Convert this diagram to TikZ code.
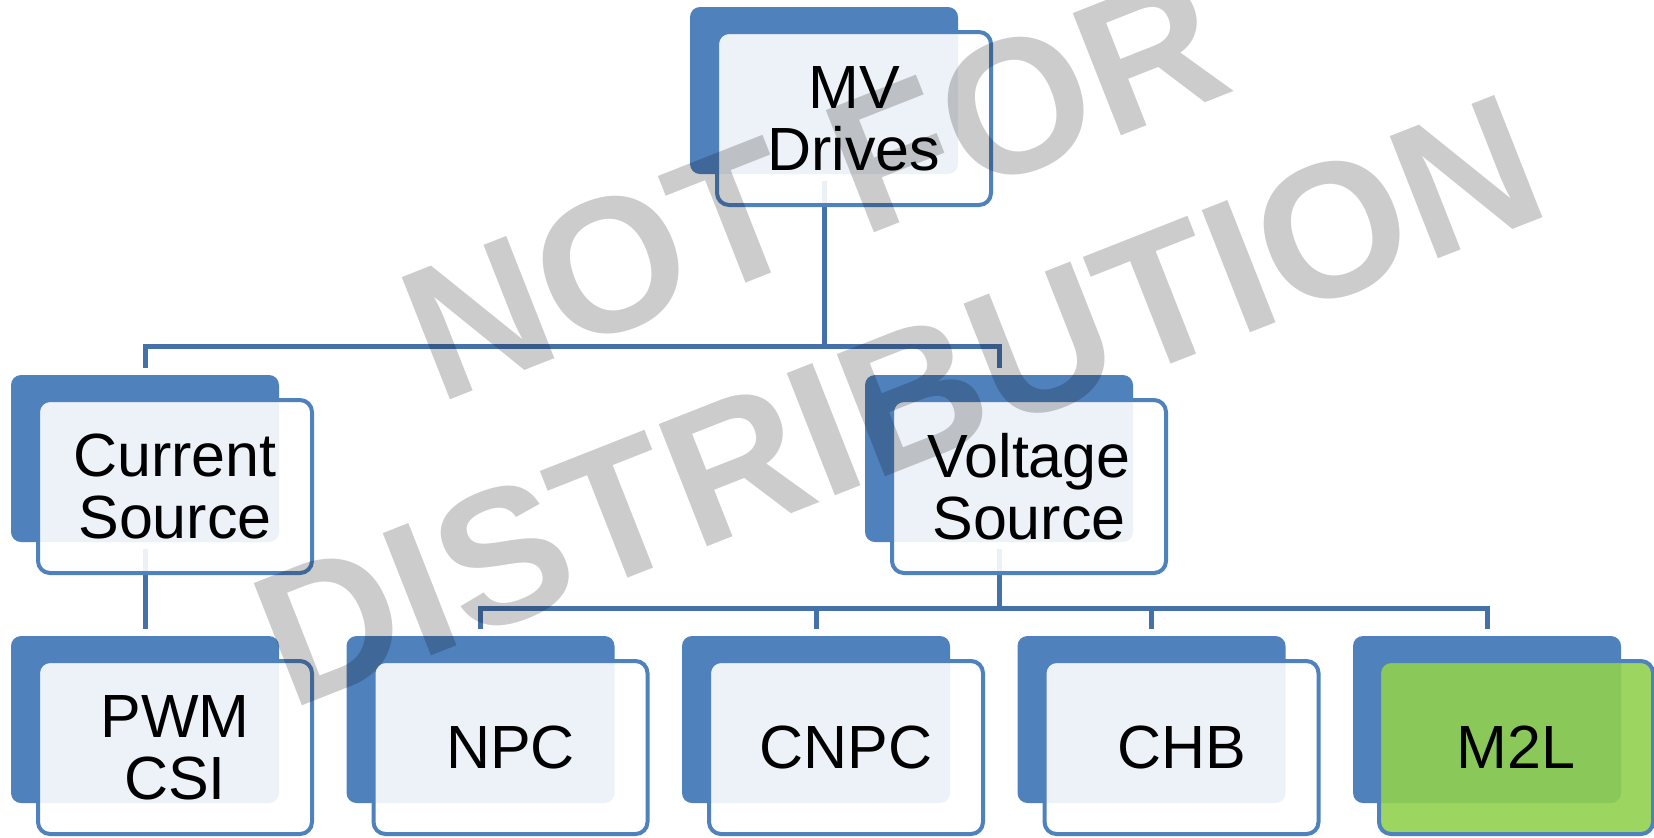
\documentclass[tikz,border=0pt]{standalone}
\usepackage{fontspec}
\setmainfont{Liberation Sans}
\usetikzlibrary{backgrounds}
\definecolor{boxblue}{HTML}{4F81BD}
\definecolor{frontblue}{HTML}{4F81BD}
\definecolor{connblue}{HTML}{4571AA}
\definecolor{mgreen}{HTML}{92D050}
\newcommand\bxfont{\fontsize{30.5}{31}\selectfont}
\newcommand\wmfont{\fontsize{95.5}{100}\selectfont\bfseries}
\tikzset{
  backbox/.style={fill=boxblue, draw=none, rounded corners=5pt,
    minimum width=134pt, minimum height=83.5pt, inner sep=0pt},
  frontbox/.style={fill=white, fill opacity=0.9, text opacity=1, draw=frontblue,
    draw opacity=1, line width=2pt, rounded corners=6pt, minimum width=137pt,
    minimum height=86.5pt, inner sep=0pt, align=center, font=\bxfont, text=black},
  greenbox/.style={frontbox, fill=mgreen},
  conn/.style={draw=connblue, line width=2.5pt},
  wm/.style={text=black, text opacity=0.2, font=\wmfont, inner sep=0pt}
}
\begin{document}
\begin{tikzpicture}[x=0.5pt, y=-0.5pt]
\useasboundingbox (0,0) rectangle (1654,837);
% level 1
\node[backbox] (mvB) at (824,90.5) {};
\node[frontbox] (mv) at (854,118.5) {MV\\Drives};
% level 2
\node[backbox] (csB) at (145,458.5) {};
\node[frontbox] (cs) at (175,486.5) {Current\\Source};
\node[backbox] (vsB) at (999,458.5) {};
\node[frontbox] (vs) at (1029,486.5) {Voltage\\Source};
% level 3
\node[backbox] (pwmB) at (145,719.5) {};
\node[frontbox] (pwm) at (175,747.5) {PWM\\CSI};
\node[backbox] (npcB) at (480.5,719.5) {};
\node[frontbox] (npc) at (510.5,747.5) {NPC};
\node[backbox] (cnpcB) at (816,719.5) {};
\node[frontbox] (cnpc) at (846,747.5) {CNPC};
\node[backbox] (chbB) at (1151.5,719.5) {};
\node[frontbox] (chb) at (1181.5,747.5) {CHB};
\node[backbox] (m2lB) at (1487,719.5) {};
\node[greenbox] (m2l) at (1516,747.5) {M2L};
% connectors
\coordinate (bar1) at (0,346);
\coordinate (bar2) at (0,608);
\begin{pgfonlayer}{background}
\draw[conn] ([yshift=-3.5pt]mvB.south) -- (mvB.south |- bar1);
\draw[conn] ([yshift=3.5pt]csB.north) -- (csB.north |- bar1) -- (vsB.north |- bar1) -- ([yshift=3.5pt]vsB.north);
\draw[conn] ([yshift=-3.5pt]csB.south) -- ([yshift=3.5pt]pwmB.north);
\draw[conn] ([yshift=-3.5pt]vsB.south) -- (vsB.south |- bar2);
\draw[conn] ([yshift=3.5pt]npcB.north) -- (npcB.north |- bar2) -- (m2lB.north |- bar2) -- ([yshift=3.5pt]m2lB.north);
\draw[conn] ([yshift=3.5pt]cnpcB.north) -- (cnpcB.north |- bar2);
\draw[conn] ([yshift=3.5pt]chbB.north) -- (chbB.north |- bar2);
\end{pgfonlayer}
% watermark
\begin{scope}[shift={(838,247)}, rotate=21.5, transform shape]
  \node[wm, anchor=base] (wm1) at (0,0) {NOT FOR};
\end{scope}
\begin{scope}[shift={(922.5,462)}, rotate=21.5, transform shape]
  \node[wm, anchor=base] (wm2) at (0,0) {DISTRIBUTION};
\end{scope}
\end{tikzpicture}
\end{document}
